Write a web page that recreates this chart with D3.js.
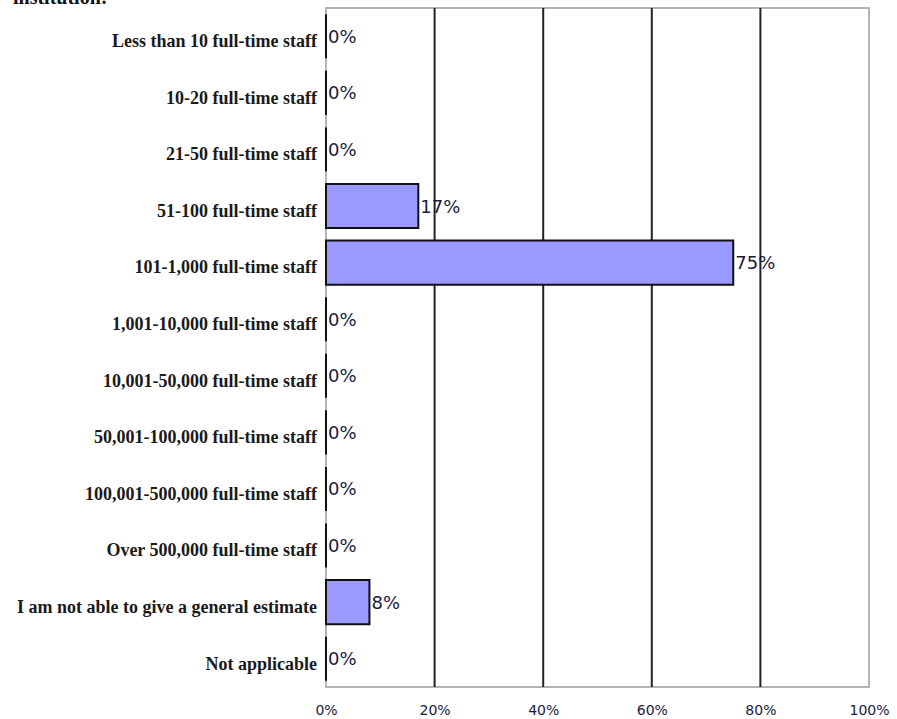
<!DOCTYPE html>
<html>
<head>
<meta charset="utf-8">
<script src="https://cdn.jsdelivr.net/npm/d3@7"></script>
<style>
  html, body { margin: 0; padding: 0; background: #fff; }
  svg { display: block; }
</style>
</head>
<body>
<script>
// Survey responses: share of respondents per staff-size band
const categories = [
  "Less than 10 full-time staff",
  "10-20 full-time staff",
  "21-50 full-time staff",
  "51-100 full-time staff",
  "101-1,000 full-time staff",
  "1,001-10,000 full-time staff",
  "10,001-50,000 full-time staff",
  "50,001-100,000 full-time staff",
  "100,001-500,000 full-time staff",
  "Over 500,000 full-time staff",
  "I am not able to give a general estimate",
  "Not applicable"
];
const values = [0, 0, 0, 17, 75, 0, 0, 0, 0, 0, 8, 0];
const tickValues = [0, 20, 40, 60, 80, 100];
const titleText = "institution:";

const W = 897, H = 719;
const plot = { left: 326, right: 869, top: 8, bottom: 687 };

const svg = d3.select("body").append("svg")
  .attr("width", W).attr("height", H);

const x = d3.scaleLinear().domain([0, 100]).range([plot.left, plot.right]);
const y = d3.scaleBand().domain(categories)
  .range([plot.top, plot.bottom])
  .paddingInner(0.22).paddingOuter(0.11);

// Question text, running off the top edge
svg.append("text")
  .attr("x", 13).attr("y", 4)
  .attr("font-family", "Liberation Serif, serif")
  .attr("font-weight", "bold")
  .attr("font-size", 20)
  .attr("fill", "#111")
  .text(titleText);

// Plot frame
svg.append("rect")
  .attr("x", plot.left).attr("y", plot.top)
  .attr("width", plot.right - plot.left).attr("height", plot.bottom - plot.top)
  .attr("fill", "#fff").attr("stroke", "#b4b4b4").attr("stroke-width", 2);

// Vertical gridlines
svg.append("g").selectAll("line")
  .data(tickValues.filter(d => d > 0 && d < 100))
  .join("line")
  .attr("x1", d => x(d)).attr("x2", d => x(d))
  .attr("y1", plot.top).attr("y2", plot.bottom)
  .attr("stroke", "#222").attr("stroke-width", 2);

// Bars as closed paths so that zero-length bars still show their outline
function barPath(d, i) {
  const x0 = x(0), x1 = x(d);
  const y0 = y(categories[i]), y1 = y0 + y.bandwidth();
  const p = d3.path();
  p.moveTo(x0, y0); p.lineTo(x1, y0); p.lineTo(x1, y1); p.lineTo(x0, y1); p.closePath();
  return p.toString();
}
svg.append("g").selectAll("path")
  .data(values)
  .join("path")
  .attr("d", barPath)
  .attr("fill", "#9999ff")
  .attr("stroke", "#111").attr("stroke-width", 2);

// Value labels
svg.append("g").selectAll("text")
  .data(values)
  .join("text")
  .attr("x", d => x(d) + 2)
  .attr("y", (d, i) => y(categories[i]) + y.bandwidth() / 2)
  .attr("dy", "0.36em")
  .attr("font-family", "DejaVu Sans, sans-serif")
  .attr("font-size", 18)
  .attr("fill", "#1a1a40")
  .text(d => d + "%");

// Category axis
const yAxis = d3.axisLeft(y).tickSize(0).tickPadding(9);
const gy = svg.append("g").attr("transform", `translate(${plot.left},0)`).call(yAxis);
gy.select(".domain").remove();
gy.selectAll("text")
  .attr("font-family", "Liberation Serif, serif")
  .attr("font-weight", "bold")
  .attr("font-size", 18)
  .attr("fill", "#1a1a1a")
  .attr("dy", "0.6em");

// Percentage axis
const xAxis = d3.axisBottom(x).tickValues(tickValues)
  .tickFormat(d => d + "%").tickSize(0).tickPadding(18);
const gx = svg.append("g").attr("transform", `translate(0,${plot.bottom})`).call(xAxis);
gx.select(".domain").remove();
gx.selectAll("text")
  .attr("font-family", "DejaVu Sans, sans-serif")
  .attr("font-size", 14)
  .attr("fill", "#1a1a40");
</script>
</body>
</html>
